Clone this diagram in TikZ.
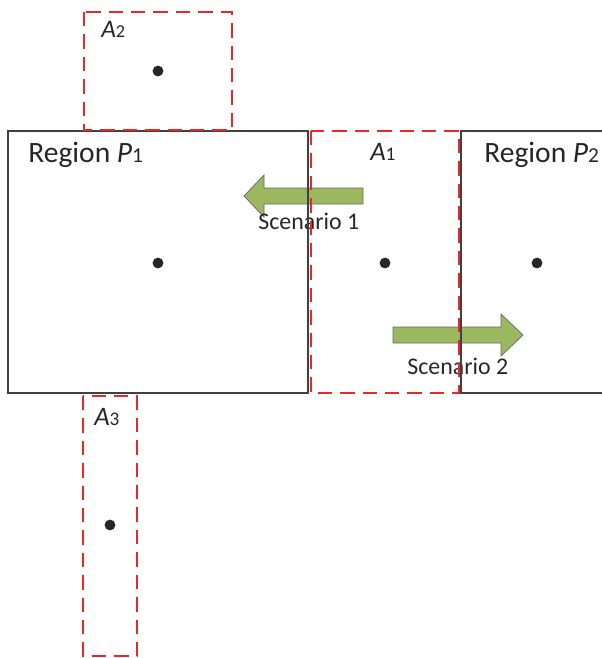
\documentclass[tikz,border=0pt]{standalone}
\usepackage{fontspec}
\setmainfont{Carlito}
\usetikzlibrary{positioning}

\definecolor{zonered}{RGB}{232,40,40}
\definecolor{movegreen}{RGB}{155,184,96}
\definecolor{edgegray}{RGB}{64,64,64}

% italic letter with a small upright index
\newcommand{\zonelab}[2]{\textit{#1}\scalebox{.72}{#2}}
% block arrow: tail x, head back x, tip x, centre y
\newcommand{\movearrow}[4]{%
  \filldraw[move] (#1,#4-8) -- (#2,#4-8) -- (#2,#4-21) -- (#3,#4)
    -- (#2,#4+21) -- (#2,#4+8) -- (#1,#4+8) -- cycle;}

\begin{document}
\begin{tikzpicture}[x=0.025cm, y=-0.025cm,
    region/.style={draw=edgegray, line width=1.7pt},
    zone/.style={draw=zonered, line width=1.9pt, dash pattern=on 0.36cm off 0.2cm},
    move/.style={fill=movegreen, draw=gray!80!black, line width=0.5pt},
    centre/.style={circle, fill=black!85, inner sep=0pt, minimum size=0.27cm},
    biglab/.style={anchor=base west, inner sep=0pt, text=black!85, font=\fontsize{21}{25}\selectfont},
    zonetext/.style={anchor=base west, inner sep=0pt, text=black!85, font=\fontsize{19}{22}\selectfont},
    scentext/.style={anchor=base west, inner sep=0pt, text=black!85, font=\fontsize{17}{20}\selectfont}]
  \useasboundingbox (0,0) rectangle (602,658);

  % moves between the regions
  \movearrow{363}{264}{244}{196}
  \movearrow{393}{501}{523}{335}
  \node[scentext] (scen1) at (258,229) {Scenario 1};
  \node[scentext] (scen2) at (407,374) {Scenario 2};

  % regions
  \draw[region] (8,131) rectangle (308,393);
  \draw[region] (604,131) -- (461,131) -- (461,393) -- (604,393);

  % overlap zones
  \draw[zone] (311,131) rectangle (459,393);
  \draw[zone] (84,12) rectangle (232,130);
  \draw[zone] (83,396) rectangle (137,656);

  % labels
  \node[biglab] (labP1) at (28,162) {Region \zonelab{P}{1}};
  \node[biglab] (labP2) at (484,162) {Region \zonelab{P}{2}};
  \node[zonetext] (labA1) at (370,160) {\zonelab{A}{1}};
  \node[zonetext, font=\fontsize{18}{21}\selectfont] (labA2) at (101,37) {\zonelab{A}{2}};
  \node[zonetext] (labA3) at (94,425) {\zonelab{A}{3}};

  % centres
  \node[centre] (cA2) at (158,71) {};
  \node[centre] (cP1) at (158,263) {};
  \node[centre] (cA1) at (385,263) {};
  \node[centre] (cP2) at (537,263) {};
  \node[centre] (cA3) at (110,525) {};
\end{tikzpicture}
\end{document}
